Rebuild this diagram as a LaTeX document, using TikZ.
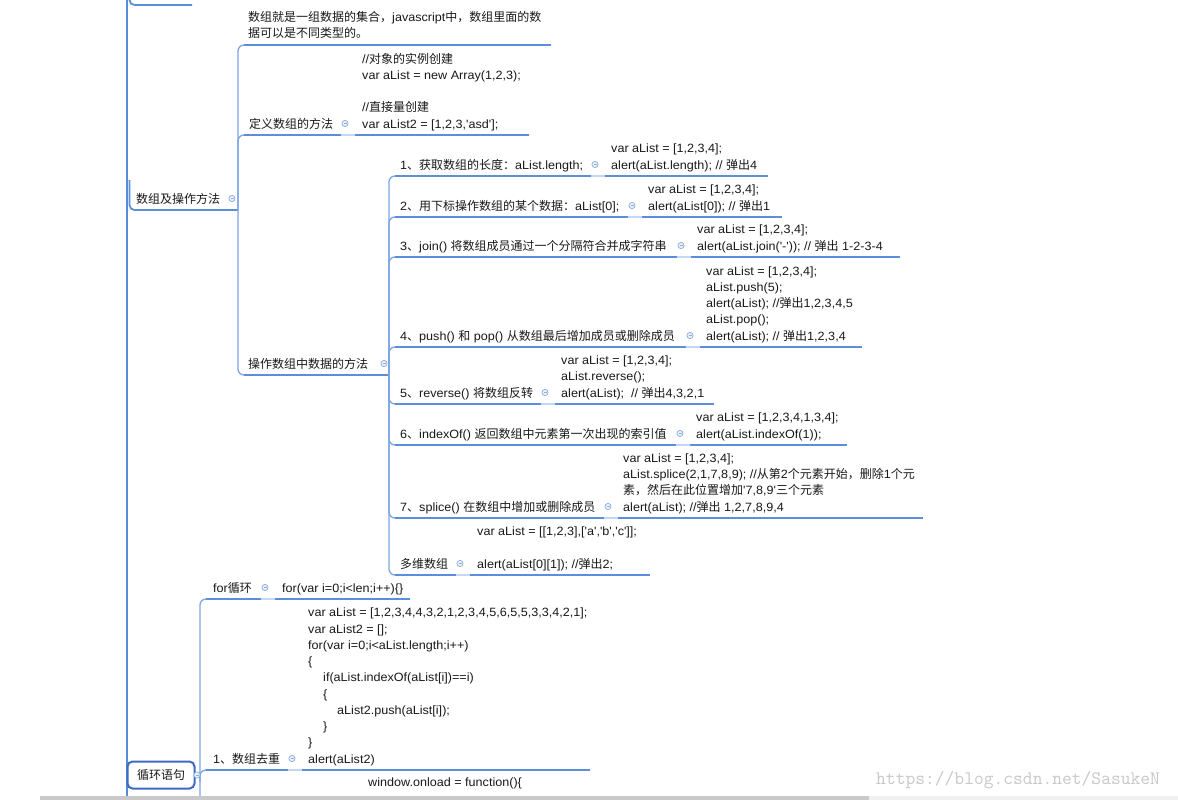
\documentclass[tikz,border=0pt]{standalone}
\usepackage{fontspec}
\usetikzlibrary{calc}
\newfontfamily\cjk{Noto Sans CJK SC}[Ligatures=TeXOff]
\newfontfamily\latin{Liberation Sans}[Ligatures=TeXOff, FakeStretch=1.05]
\newcommand\C[1]{{\cjk #1}}
\definecolor{textc}{RGB}{25,25,25}
\definecolor{trunkc}{RGB}{88,138,214}
\definecolor{branchc}{RGB}{125,165,228}
\definecolor{ulinec}{RGB}{92,142,218}
\definecolor{lightc}{RGB}{196,214,242}
\definecolor{mkc}{RGB}{140,172,222}
\definecolor{mkf}{RGB}{236,242,252}
\definecolor{boxc}{RGB}{62,106,194}
\definecolor{wmc}{RGB}{200,200,200}
\definecolor{barc}{RGB}{201,201,201}
\definecolor{barl}{RGB}{240,240,240}
\newcommand\myq{\symbol{39}}
\begin{document}
\begin{tikzpicture}[x=1pt,y=-1pt,
  txt/.style={inner sep=0pt, anchor=base west, align=left, text=textc,
    font=\latin\fontsize{12}{16.25}\selectfont},
  mk/.style={circle, draw=mkc, fill=mkf, line width=0.7pt, inner sep=0pt,
    minimum size=6.2pt,
    path picture={\draw[mkc,line width=0.6pt]
      ([xshift=1.6pt]path picture bounding box.west) --
      ([xshift=-1.6pt]path picture bounding box.east);}},
  mainline/.style={draw=trunkc, line width=2.6pt},
  branch/.style={draw=branchc, line width=1.3pt, rounded corners=6pt},
  uline/.style={draw=ulinec, line width=1.8pt, rounded corners=5pt},
  lightseg/.style={draw=lightc, line width=1.8pt},
  boxnode/.style={draw=boxc, line width=2pt, rounded corners=5pt, fill=white,
    minimum width=67pt, minimum height=27pt, inner sep=0pt, text=textc,
    font=\cjk\fontsize{12}{14}\selectfont},
  wm/.style={inner sep=0pt, anchor=base west, text=wmc,
    font=\ttfamily\fontsize{19}{19}\selectfont}
]
\path[fill=white] (0,0) rectangle (1178,800);
\useasboundingbox (0,0) rectangle (1178,800);

% ---------- coordinates ----------
\coordinate (rootT) at (127,-3);
\coordinate (rootB) at (127,803);
\coordinate (topA) at (129.5,-3);
\coordinate (topE) at (192,5);
\coordinate (szA) at (129.5,180);
\coordinate (szP) at (238,210);
\coordinate (d1s) at (244,45);   \coordinate (d1e) at (551,45);
\coordinate (d2s) at (244,135);  \coordinate (d2e) at (529,135);
\coordinate (d3s) at (244,375);  \coordinate (opP) at (389,375);
\coordinate (e1s) at (395,176);  \coordinate (e1e) at (768,176);
\coordinate (e2s) at (395,217);  \coordinate (e2e) at (782,217);
\coordinate (e3s) at (395,257);  \coordinate (e3e) at (900,257);
\coordinate (e4s) at (395,347);  \coordinate (e4e) at (862,347);
\coordinate (e5s) at (395,404);  \coordinate (e5e) at (714,404);
\coordinate (e6s) at (395,445);  \coordinate (e6e) at (847,445);
\coordinate (e7s) at (395,518);  \coordinate (e7e) at (923,518);
\coordinate (e8s) at (395,575);  \coordinate (e8e) at (650,575);
\coordinate (lpP) at (200,782);
\coordinate (lpB) at (200,803);
\coordinate (f1s) at (206,599);  \coordinate (f1e) at (410,599);
\coordinate (f2s) at (206,770);  \coordinate (f2e) at (590,770);

% ---------- main trunk ----------
\draw[mainline] (rootT) -- (rootB);
\draw[uline] (topA) |- (topE);
\draw[uline] (szA) |- (szP);

% ---------- branches of 数组及操作方法 ----------
\foreach \c in {d1e,d2e,opP} \draw[branch] (szP) |- (\c);
\draw[uline] (d1s) -- (d1e);
\draw[uline] (d2s) -- (d2e);
\draw[uline] (d3s) -- (opP);

% ---------- branches of 操作数组中数据的方法 ----------
\foreach \c in {e1s,e2s,e3s,e4s,e5s,e6s,e7s,e8s} \draw[branch] (opP) |- (\c);
\foreach \i in {1,...,8} \draw[uline] (e\i s) -- (e\i e);

% ---------- branches of 循环语句 ----------
\draw[branch] (f1e) -| (lpB);
\draw[branch] (lpP) |- (f2e);
\draw[uline] (f1s) -- (f1e);
\draw[uline] (f2s) -- (f2e);

% ---------- texts (multi-line nodes: base = last line) ----------
\node[txt] (desc) at (248,38) {\C{数组就是一组数据的集合，}javascript\C{中，数组里面的数}\\\C{据可以是不同类型的。}};

\node[txt] (def) at (249,128) {\C{定义数组的方法}};
\node[txt] (defc) at (362,128) {//\C{对象的实例创建}\\var aList = new Array(1,2,3);\\\mbox{}\\//\C{直接量创建}\\var aList2 = [1,2,3,\myq asd\myq];};

\node[txt] (sz) at (136,203) {\C{数组及操作方法}};
\node[txt] (op) at (248,368) {\C{操作数组中数据的方法}};

\node[txt] (l1) at (400,169) {1\C{、获取数组的长度：}aList.length;};
\node[txt] (c1) at (611,169) {var aList = [1,2,3,4];\\alert(aList.length); // \C{弹出}4};

\node[txt] (l2) at (400,210) {2\C{、用下标操作数组的某个数据：}aList[0];};
\node[txt] (c2) at (648,210) {var aList = [1,2,3,4];\\alert(aList[0]); // \C{弹出}1};

\node[txt] (l3) at (400,250) {3\C{、}join() \C{将数组成员通过一个分隔符合并成字符串}};
\node[txt] (c3) at (697,250) {var aList = [1,2,3,4];\\alert(aList.join(\myq-\myq)); // \C{弹出} 1-2-3-4};

\node[txt] (l4) at (400,340) {4\C{、}push() \C{和} pop() \C{从数组最后增加成员或删除成员}};
\node[txt] (c4) at (706,340) {var aList = [1,2,3,4];\\aList.push(5);\\alert(aList); //\C{弹出}1,2,3,4,5\\aList.pop();\\alert(aList); // \C{弹出}1,2,3,4};

\node[txt] (l5) at (400,397) {5\C{、}reverse() \C{将数组反转}};
\node[txt] (c5) at (561,397) {var aList = [1,2,3,4];\\aList.reverse();\\alert(aList);~ // \C{弹出}4,3,2,1};

\node[txt] (l6) at (400,438) {6\C{、}indexOf() \C{返回数组中元素第一次出现的索引值}};
\node[txt] (c6) at (696,438) {var aList = [1,2,3,4,1,3,4];\\alert(aList.indexOf(1));};

\node[txt] (l7) at (400,511) {7\C{、}splice() \C{在数组中增加或删除成员}};
\node[txt] (c7) at (623,511) {var aList = [1,2,3,4];\\aList.splice(2,1,7,8,9); //\C{从第}2\C{个元素开始，删除}1\C{个元}\\\C{素，然后在此位置增加}\myq 7,8,9\myq\C{三个元素}\\alert(aList); //\C{弹出} 1,2,7,8,9,4};

\node[txt] (l8) at (400,568) {\C{多维数组}};
\node[txt] (c8) at (477,568) {var aList = [[1,2,3],[\myq a\myq,\myq b\myq,\myq c\myq]];\\\mbox{}\\alert(aList[0][1]); //\C{弹出}2;};

\node[txt] (fl) at (213,592) {for\C{循环}};
\node[txt] (fc) at (282,592) {for(var i=0;i<len;i++)\{\}};

\node[txt] (ql) at (213,763) {1\C{、数组去重}};
\node[txt] (qc) at (308,763) {var aList = [1,2,3,4,4,3,2,1,2,3,4,5,6,5,5,3,3,4,2,1];\\var aList2 = [];\\for(var i=0;i<aList.length;i++)\\\{\\\hspace*{15pt}if(aList.indexOf(aList[i])==i)\\\hspace*{15pt}\{\\\hspace*{29pt}aList2.push(aList[i]);\\\hspace*{15pt}\}\\\}\\alert(aList2)};

\node[txt] (wc) at (368,786.5) {window.onload = function()\{};

% ---------- 循环语句 box ----------
\node[boxnode] (loop) at (161,775) {循环语句};

% ---------- markers ----------
\node[mk] (m0) at (345,123.5) {};
\node[mk] (ms) at (232,198.5) {};
\node[mk] (mo) at (384,363.5) {};
\node[mk] (m1) at (595,164.5) {};
\node[mk] (m2) at (632,205.5) {};
\node[mk] (m3) at (681,245.5) {};
\node[mk] (m4) at (690,335.5) {};
\node[mk] (m5) at (545,392.5) {};
\node[mk] (m6) at (680,433.5) {};
\node[mk] (m7) at (608,506.5) {};
\node[mk] (m8) at (460,563.5) {};
\node[mk] (mf) at (265,587.5) {};
\node[mk] (mq) at (292,758.5) {};
\node[mk] (ml) at (197,775) {};

% light segments of the underlines below the markers
\foreach \m/\e in {m0/d2e,m1/e1e,m2/e2e,m3/e3e,m4/e4e,m5/e5e,m6/e6e,m7/e7e,m8/e8e,mf/f1e,mq/f2e}
  \draw[lightseg] ($(\m|-\e)+(-4,0)$) -- ($(\m|-\e)+(10,0)$);

% ---------- watermark and scroll bar ----------
\node[wm] (wmk) at (876,784.5) {https://blog.csdn.net/SasukeN};
\fill[barc] (40,796) rectangle (869,800);
\fill[barl] (869,796) rectangle (1178,800);
\end{tikzpicture}
\end{document}
